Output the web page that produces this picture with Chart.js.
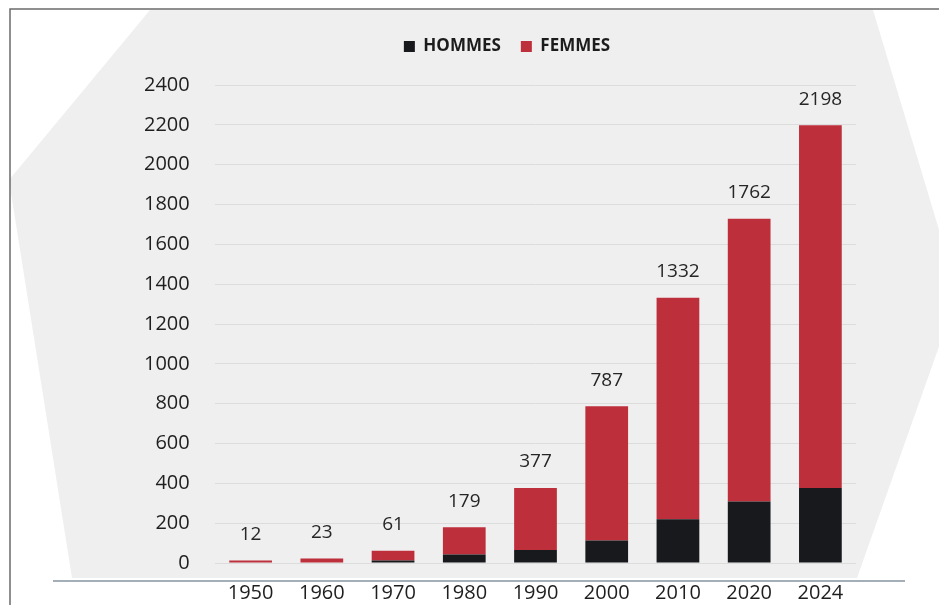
<!DOCTYPE html>
<html>
<head>
<meta charset="utf-8">
<script src="https://cdn.jsdelivr.net/npm/chart.js@4.4.1/dist/chart.umd.min.js"></script>
<style>
  html, body { margin: 0; padding: 0; background: #ffffff; }
  #wrap { width: 939px; height: 605px; }
</style>
</head>
<body>
<div id="wrap"><canvas id="chart" width="939" height="605"></canvas></div>
<script>
// categories and values
const years = ['1950', '1960', '1970', '1980', '1990', '2000', '2010', '2020', '2024'];
const hommes = [0, 2, 12, 43, 65, 113, 220, 309, 376];
const femmes = [12, 21, 49, 136, 312, 674, 1112, 1419, 1822];
// totals printed above the bars
const totalLabels = ['12', '23', '61', '179', '377', '787', '1332', '1762', '2198'];
const yTicks = [0, 200, 400, 600, 800, 1000, 1200, 1400, 1600, 1800, 2000, 2200, 2400];

const FONT = "'Open Sans', 'Noto Sans', sans-serif";

// grey backdrop shape, frame and bottom rule
const backdrop = {
  id: 'backdrop',
  beforeDraw(chart) {
    const ctx = chart.ctx;
    ctx.save();
    ctx.fillStyle = '#ffffff';
    ctx.fillRect(0, 0, chart.width, chart.height);
    ctx.fillStyle = '#efefef';
    ctx.beginPath();
    ctx.moveTo(150, 10);
    ctx.lineTo(873, 10);
    ctx.lineTo(958, 293);
    ctx.lineTo(857, 578);
    ctx.lineTo(72, 578);
    ctx.lineTo(9, 180);
    ctx.closePath();
    ctx.fill();
    // frame
    ctx.strokeStyle = '#6b6b6b';
    ctx.lineWidth = 1.5;
    ctx.beginPath();
    ctx.moveTo(10, 605);
    ctx.lineTo(10, 9);
    ctx.lineTo(939, 9);
    ctx.stroke();
    // bottom rule
    ctx.strokeStyle = '#a3aeb9';
    ctx.lineWidth = 2;
    ctx.beginPath();
    ctx.moveTo(53, 581);
    ctx.lineTo(905, 581);
    ctx.stroke();
    ctx.restore();
  }
};

// total values above each stack
const totals = {
  id: 'totals',
  afterDatasetsDraw(chart) {
    const ctx = chart.ctx;
    const meta = chart.getDatasetMeta(1);
    ctx.save();
    ctx.font = '19px ' + FONT;
    ctx.fillStyle = '#262626';
    ctx.textAlign = 'center';
    ctx.textBaseline = 'middle';
    meta.data.forEach((bar, i) => {
      ctx.fillText(totalLabels[i], bar.x, bar.y - 26);
    });
    ctx.restore();
  }
};

const ctx = document.getElementById('chart').getContext('2d');
new Chart(ctx, {
  type: 'bar',
  data: {
    labels: years,
    datasets: [
      {
        label: 'HOMMES',
        data: hommes,
        backgroundColor: '#17191c',
        borderWidth: 0,
        barPercentage: 0.6,
        categoryPercentage: 1.0,
      },
      {
        label: 'FEMMES',
        data: femmes,
        backgroundColor: '#be2f3c',
        borderWidth: 0,
        barPercentage: 0.6,
        categoryPercentage: 1.0,
      },
    ],
  },
  options: {
    responsive: false,
    animation: false,
    devicePixelRatio: 1,
    layout: { padding: { left: 158, right: 83, top: 18, bottom: 0 } },
    plugins: {
      legend: {
        position: 'top',
        weight: 1000,
        labels: {
          font: { family: FONT, size: 17, weight: 'bold' },
          color: '#1c1c1c',
          boxWidth: 11,
          boxHeight: 11,
          padding: 20,
        },
      },
      // empty title used as a spacer between legend and plot
      title: {
        display: true,
        text: '',
        weight: 500,
        font: { size: 20, lineHeight: 1 },
        padding: 0,
      },
      tooltip: { enabled: false },
    },
    scales: {
      x: {
        stacked: true,
        grid: { display: false, drawTicks: false },
        border: { display: false },
        ticks: {
          color: '#1e1e1e',
          font: { family: FONT, size: 20 },
          padding: 18,
          maxRotation: 0,
        },
        afterFit(scale) { scale.height = 42; },
      },
      y: {
        stacked: true,
        min: 0,
        max: 2400,
        afterBuildTicks(scale) { scale.ticks = yTicks.map(v => ({ value: v })); },
        grid: { color: '#dcdcdc', lineWidth: 1, drawTicks: false },
        border: { display: false },
        ticks: {
          color: '#1e1e1e',
          font: { family: FONT, size: 20 },
          // mirrored + far alignment so the labels are not clipped to the narrow axis box
          mirror: true,
          crossAlign: 'far',
          padding: -71,
          callback: (v) => String(v),
        },
        afterFit(scale) { scale.width = 57; },
      },
    },
  },
  plugins: [backdrop, totals],
});
</script>
</body>
</html>
